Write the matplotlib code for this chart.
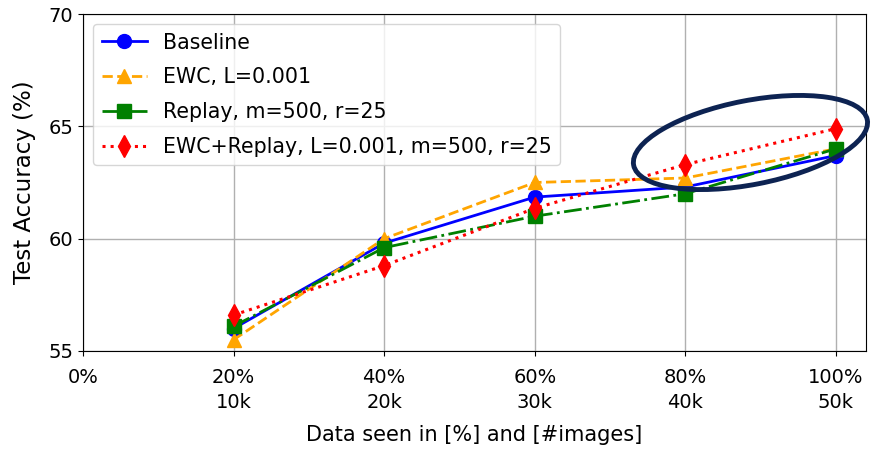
import matplotlib.pyplot as plt
from matplotlib.patches import Ellipse
from matplotlib import transforms

# data
data_pct = [20, 40, 60, 80, 100]
tick_pos = [0, 20, 40, 60, 80, 100]
tick_labels = ["0%", "20%\n10k", "40%\n20k", "60%\n30k", "80%\n40k", "100%\n50k"]

baseline = [56.0, 59.8, 61.85, 62.3, 63.7]
ewc = [55.5, 60.0, 62.5, 62.7, 64.0]
replay = [56.1, 59.6, 61.0, 62.0, 64.0]
ewc_replay = [56.6, 58.8, 61.35, 63.3, 64.9]

fig = plt.figure(figsize=(8.71, 4.49), dpi=100)
ax = fig.add_axes([0.0953, 0.2183, 0.899, 0.7505])

ax.plot(data_pct, baseline, color='blue', linestyle='-', linewidth=2,
        marker='o', markersize=10, label='Baseline')
ax.plot(data_pct, ewc, color='orange', linestyle='--', linewidth=2,
        marker='^', markersize=10, label='EWC, L=0.001')
ax.plot(data_pct, replay, color='green', linestyle='-.', linewidth=2,
        marker='s', markersize=10, label='Replay, m=500, r=25')
ax.plot(data_pct, ewc_replay, color='red', linestyle=':', linewidth=2.2,
        marker='d', markersize=11, label='EWC+Replay, L=0.001, m=500, r=25')

ax.set_xlim(0, 104)
ax.set_ylim(55, 70)
ax.set_xticks(tick_pos)
ax.set_xticklabels(tick_labels, linespacing=1.4)
ax.set_yticks([55, 60, 65, 70])
ax.tick_params(labelsize=14)
ax.tick_params(axis='x', pad=9)
ax.set_xlabel("Data seen in [%] and [#images]", fontsize=15, labelpad=9)
ax.set_ylabel("Test Accuracy (%)", fontsize=16.5, labelpad=9)
ax.grid(True, color='#b0b0b0', linewidth=1)
ax.legend(loc='upper left', fontsize=14.8, handlelength=2.2, labelspacing=0.72)

# highlight ellipse around the last two points (drawn in inches around a data point)
trans = fig.dpi_scale_trans + transforms.ScaledTranslation(88.65, 64.28, ax.transData)
ell = Ellipse((0, 0), 2.38, 0.84, angle=11, fill=False, edgecolor='#0d2352',
              linewidth=3.5, transform=trans, clip_on=False, zorder=10)
ax.add_patch(ell)

fig.savefig("out.png", dpi=100)
